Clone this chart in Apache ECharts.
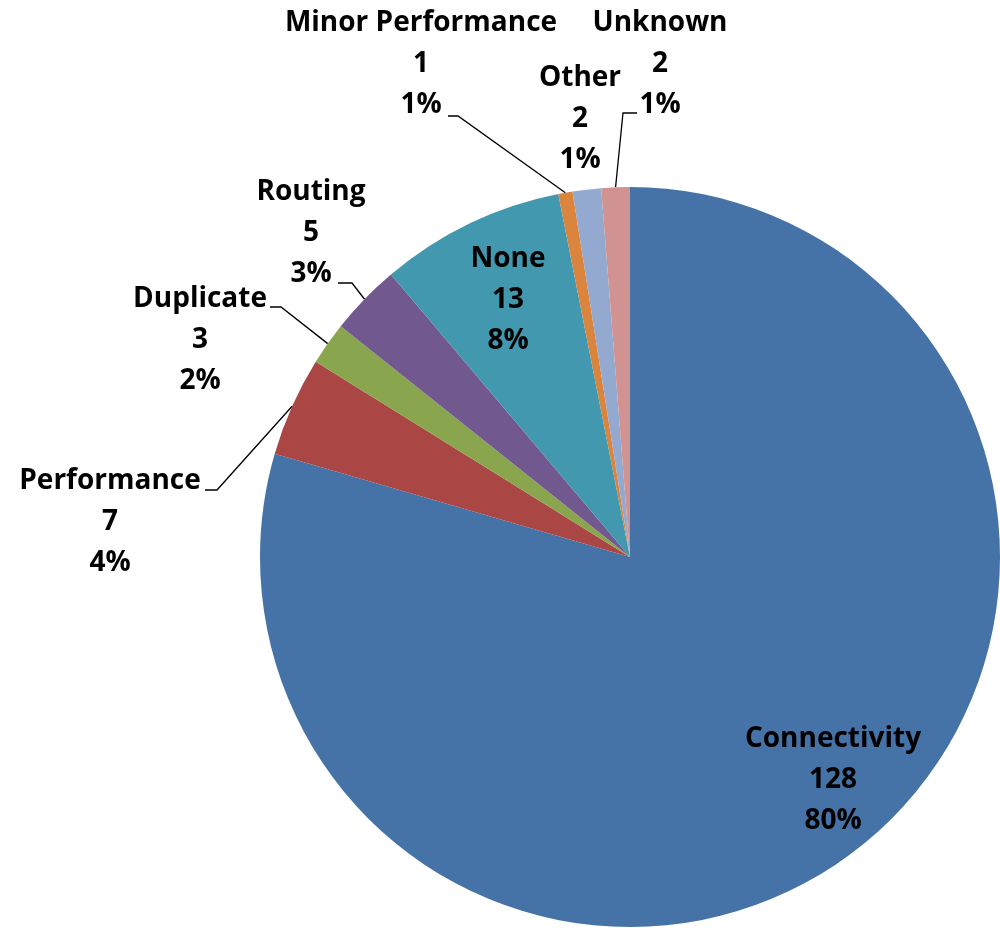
<!DOCTYPE html>
<html>
<head>
<meta charset="utf-8">
<style>
  html, body { margin: 0; padding: 0; background: #fff; }
  #chart { width: 1000px; height: 937px; }
</style>
<script src="https://cdn.jsdelivr.net/npm/echarts@6/dist/echarts.min.js"></script>
</head>
<body>
<div id="chart"></div>
<script>
// data
const categories = ['Connectivity', 'Performance', 'Duplicate', 'Routing', 'None', 'Minor Performance', 'Other', 'Unknown']
const counts = [128, 7, 3, 5, 13, 1, 2, 2]
const colors = ['#4572A7', '#AA4643', '#89A54E', '#71588F', '#4198AF', '#DB843D', '#93A9CF', '#D19392']

// where each label sits (text block centre) and the leader line's bend/end, in px
const labelAnchor = {
  'Connectivity': [833, 780],
  'Performance': [110, 522],
  'Duplicate': [200, 340],
  'Routing': [311, 233],
  'None': [508, 300],
  'Minor Performance': [421, 64],
  'Other': [580, 119],
  'Unknown': [660, 64]
}
const leaderTail = {
  'Performance': [[217, 490], [205, 490]],
  'Duplicate': [[281, 307], [270, 307]],
  'Routing': [[352, 283], [338, 283]],
  'Minor Performance': [[458, 116], [448, 116]],
  'Unknown': [[623, 113], [637, 113]]
}

const chart = echarts.init(document.getElementById('chart'))

const option = {
  animation: false,
  series: [
    {
      type: 'pie',
      center: [630, 557],
      radius: [0, 370],
      startAngle: 90,
      clockwise: true,
      percentPrecision: 0,
      avoidLabelOverlap: false,
      data: categories.map((name, i) => ({
        name,
        value: counts[i],
        itemStyle: { color: colors[i] },
        labelLine: { show: !!leaderTail[name] }
      })),
      itemStyle: { borderWidth: 0 },
      label: {
        show: true,
        position: 'outside',
        formatter: '{b}\n{c}\n{d}%',
        fontFamily: 'Open Sans',
        fontWeight: 'bold',
        fontSize: 28,
        lineHeight: 41,
        color: '#000',
        align: 'center'
      },
      labelLine: {
        show: false,
        lineStyle: { color: '#000', width: 1.3 }
      },
      labelLayout: (params) => {
        const name = categories[params.dataIndex]
        const pos = labelAnchor[name]
        const out = { x: pos[0], y: pos[1], align: 'center', verticalAlign: 'middle' }
        const tail = leaderTail[name]
        if (tail && params.labelLinePoints) {
          out.labelLinePoints = [params.labelLinePoints[0], tail[0], tail[1]]
        }
        return out
      }
    }
  ]
}

chart.setOption(option)
window.addEventListener('resize', () => chart.resize())
</script>
</body>
</html>
